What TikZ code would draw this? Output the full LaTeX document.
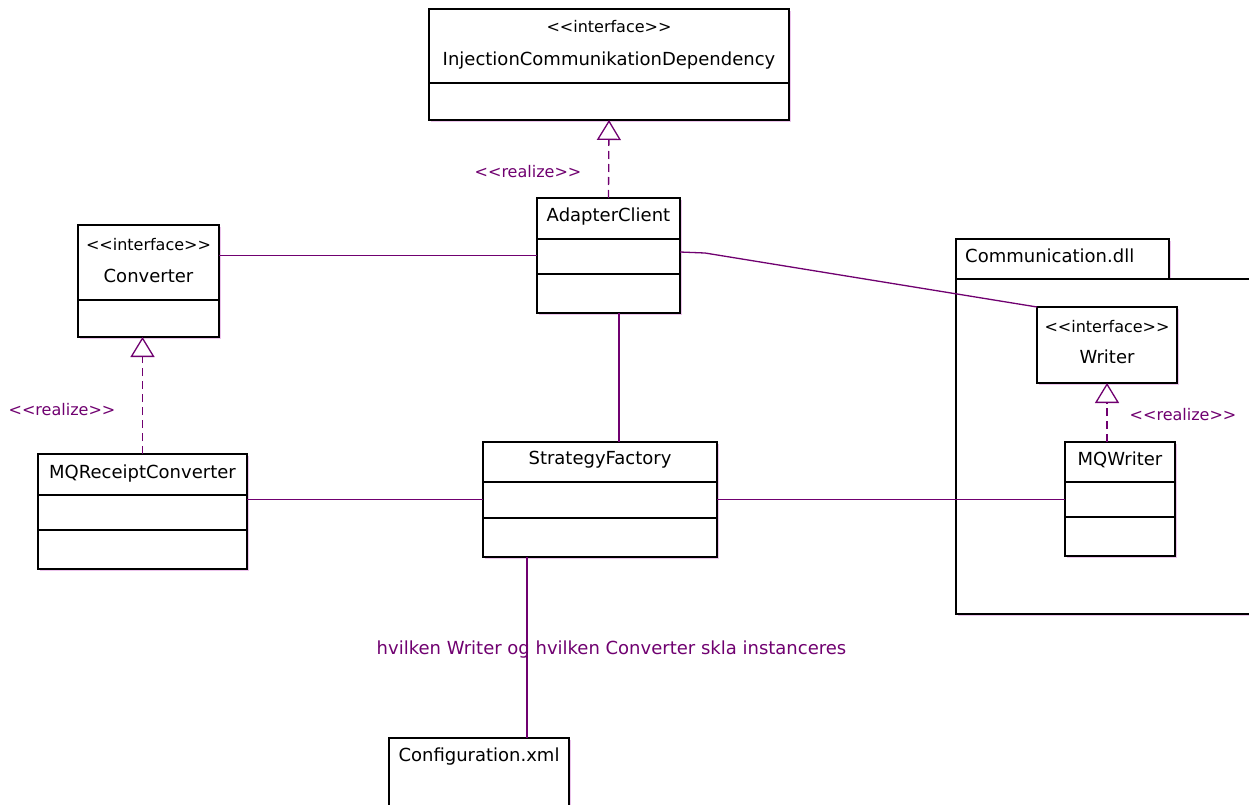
\documentclass[tikz,border=0pt]{standalone}
\usepackage{fontspec}
\setmainfont{DejaVu Sans}[Ligatures=TeXOff]
\usetikzlibrary{arrows.meta,calc}
\definecolor{umlpurple}{RGB}{112,0,112}
\definecolor{shadowpink}{RGB}{236,196,236}
\tikzset{
  classbox/.style={draw=black, line width=1.5pt, fill=white, anchor=north west,
    inner sep=0pt, outer sep=0pt,
    preaction={fill=shadowpink, draw=none, transform canvas={shift={(2pt,-2pt)}}}},
  divider/.style={draw=black, line width=1.5pt},
  nametext/.style={anchor=base, inner sep=0pt, font=\fontsize{18}{20}\selectfont, text=black},
  stereotext/.style={anchor=base, inner sep=0pt, font=\fontsize{16}{18}\selectfont, text=black},
  realizetext/.style={anchor=base, inner sep=0pt, font=\fontsize{16}{18}\selectfont, text=umlpurple},
  notetext/.style={anchor=base, inner sep=0pt, font=\fontsize{18}{20}\selectfont, text=umlpurple},
  assoc/.style={draw=umlpurple, line width=1.3pt},
  realize/.style={draw=umlpurple, line width=1.3pt, dash pattern=on 8pt off 5pt,
    -{Triangle[open, length=20pt, width=24pt, fill=white, line width=1.3pt]}},
}
\begin{document}
\begin{tikzpicture}[x=1pt,y=-1pt]
\useasboundingbox (0,0) rectangle (1249,805);
\fill[white] (0,0) rectangle (1249,805);
\clip (0,0) rectangle (1249,805);

% package Communication.dll
\node[classbox, minimum width=213pt, minimum height=40pt] (pkgtab) at (956,239) {};
\node[classbox, minimum width=320pt, minimum height=335pt] (pkg) at (956,279) {};
\node[nametext, anchor=base west] (pkgname) at (965,262) {Communication.dll};

% class boxes
\node[classbox, minimum width=360pt, minimum height=111pt] (inj) at (429,9) {};
\draw[divider] ($(inj.north west)+(0,74)$) -- ($(inj.north east)+(0,74)$);
\node[stereotext] (inj-st) at (609,33) {<<interface>>};
\node[nametext] (inj-name) at (609,66) {InjectionCommunikationDependency};

\node[classbox, minimum width=143pt, minimum height=115pt] (adapter) at (537,198) {};
\draw[divider] ($(adapter.north west)+(0,41)$) -- ($(adapter.north east)+(0,41)$);
\draw[divider] ($(adapter.north west)+(0,76)$) -- ($(adapter.north east)+(0,76)$);
\node[nametext] (adapter-name) at (608.5,221) {AdapterClient};

\node[classbox, minimum width=141pt, minimum height=112pt] (conv) at (78,225) {};
\draw[divider] ($(conv.north west)+(0,75)$) -- ($(conv.north east)+(0,75)$);
\node[stereotext] (conv-st) at (148.5,250) {<<interface>>};
\node[nametext] (conv-name) at (148.5,282) {Converter};

\node[classbox, minimum width=209pt, minimum height=115pt] (mqrc) at (38,454) {};
\draw[divider] ($(mqrc.north west)+(0,41)$) -- ($(mqrc.north east)+(0,41)$);
\draw[divider] ($(mqrc.north west)+(0,76)$) -- ($(mqrc.north east)+(0,76)$);
\node[nametext] (mqrc-name) at (142.5,478) {MQReceiptConverter};

\node[classbox, minimum width=234pt, minimum height=115pt] (sf) at (483,442) {};
\draw[divider] ($(sf.north west)+(0,40)$) -- ($(sf.north east)+(0,40)$);
\draw[divider] ($(sf.north west)+(0,76)$) -- ($(sf.north east)+(0,76)$);
\node[nametext] (sf-name) at (600,464) {StrategyFactory};

\node[classbox, minimum width=140pt, minimum height=76pt] (writer) at (1037,307) {};
\node[stereotext] (writer-st) at (1107,332) {<<interface>>};
\node[nametext] (writer-name) at (1107,363) {Writer};

\node[classbox, minimum width=110pt, minimum height=114pt] (mqw) at (1065,442) {};
\draw[divider] ($(mqw.north west)+(0,40)$) -- ($(mqw.north east)+(0,40)$);
\draw[divider] ($(mqw.north west)+(0,75)$) -- ($(mqw.north east)+(0,75)$);
\node[nametext] (mqw-name) at (1120,465) {MQWriter};

\node[classbox, minimum width=180pt, minimum height=100pt] (config) at (389,738) {};
\node[nametext] (config-name) at (479,761) {Configuration.xml};

% realizations
\draw[realize] (adapter.north) -- (inj.south);
\node[realizetext] (inj-real) at (528,178) {<<realize>>};
\draw[realize] (mqrc.north) -- (mqrc.north |- conv.south);
\node[realizetext] (conv-real) at (62,415) {<<realize>>};
\draw[realize] (writer.south |- mqw.north) -- (writer.south);
\node[realizetext] (writer-real) at (1183,420) {<<realize>>};

% associations
\draw[assoc] (adapter.west) -- (adapter.west -| conv.east);
\coordinate (bend) at (705,253);
\draw[assoc] ([yshift=3.5pt]adapter.east) -- (bend) -- (writer.north west);
\draw[assoc] ([xshift=10.5pt]adapter.south) -- ([xshift=10.5pt]adapter.south |- sf.north);
\draw[assoc] (sf.west) -- (sf.west -| mqrc.east);
\draw[assoc] (sf.east) -- (sf.east -| mqw.west);
\draw[assoc] ([xshift=48pt]config.north) -- ([xshift=48pt]config.north |- sf.south);
\node[notetext] (note) at (611.5,654) {hvilken Writer og hvilken Converter skla instanceres};
\end{tikzpicture}
\end{document}
